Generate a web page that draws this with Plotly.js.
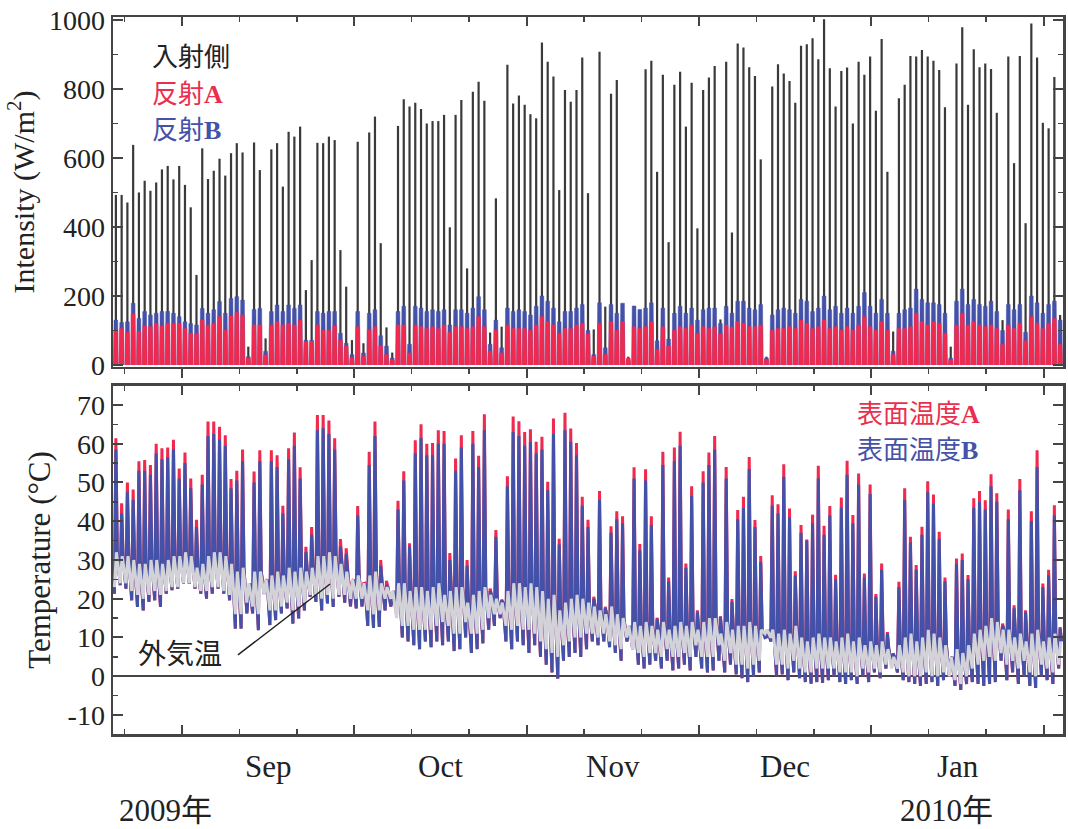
<!DOCTYPE html>
<html>
<head>
<meta charset="utf-8">
<script src="https://cdn.plot.ly/plotly-3.0.1.min.js"></script>
<style>html,body{margin:0;padding:0;background:#fff;}#chart{width:1068px;height:829px;}</style>
</head>
<body>
<div id="chart"></div>
<script>
// ---- daily values (day 0 = 20 Aug 2009) ----
const incident = [
 493,493,471,638,500,534,505,529,567,577,
 538,577,522,457,261,628,539,563,598,549,
 614,643,616,53,645,565,77,625,643,517,
 676,662,691,217,304,644,643,662,652,333,
 227,72,647,63,674,720,353,109,36,693,
 770,749,760,742,700,707,707,725,399,725,
 768,280,792,821,766,94,483,111,870,758,
 781,754,727,715,935,879,836,507,797,763,
 797,891,498,103,908,169,786,826,null,24,
 null,null,857,882,560,841,356,812,850,691,
 818,396,797,833,867,132,879,384,932,920,
 863,838,596,24,807,872,845,823,760,925,
 930,947,886,1002,860,749,852,862,700,879,
 841,894,737,945,560,97,773,812,896,894,
 913,894,882,855,747,53,874,979,754,915,
 863,874,858,731,130,894,585,896,411,990,
 891,702,686,835,145];
const reflB = [
 130,123,125,179,135,155,145,150,155,155,
 150,140,125,120,116,164,150,160,184,150,
 193,198,188,24,161,164,40,155,174,155,
 174,164,174,72,72,155,150,155,155,92,
 63,30,155,35,150,160,85,55,20,155,
 170,60,170,165,155,160,155,160,116,160,
 160,150,165,198,160,60,130,50,165,155,
 160,155,145,170,200,185,165,125,155,155,
 165,175,100,30,180,50,175,150,179,15,
 171,161,165,180,70,165,75,150,170,150,
 165,130,160,165,165,120,170,150,185,185,
 165,160,175,20,145,160,165,160,150,190,
 185,155,165,200,160,170,150,165,150,170,
 210,170,150,190,150,40,150,160,165,220,
 190,180,180,175,150,20,185,220,175,190,
 175,170,185,155,100,175,160,175,95,200,
 180,150,175,185,130];
const reflA = [
 100,106,95,148,97,113,111,121,113,121,
 121,121,106,92,92,130,116,121,140,101,
 142,152,145,20,116,116,29,116,126,116,
 121,116,130,68,68,116,101,101,113,72,
 55,20,111,25,101,111,55,30,15,116,
 116,35,116,111,106,111,106,116,95,111,
 111,106,111,140,111,40,101,35,116,106,
 106,106,101,116,140,126,116,92,106,106,
 116,121,90,25,121,30,126,101,126,20,
 111,106,111,126,45,111,55,101,111,106,
 116,92,111,106,111,90,116,110,126,121,
 111,111,116,15,101,106,106,111,106,130,
 121,106,111,130,106,111,101,111,101,116,
 140,111,101,126,101,30,106,106,111,150,
 126,116,126,121,92,15,116,150,116,126,
 116,111,116,106,60,116,106,121,70,140,
 121,106,121,135,60];
const surfAmax = [
 61.4,44.6,50,48.2,55.5,55.8,54.5,60,58.8,59,
 61,53.6,57.7,51,40.4,52,65.7,65.7,64.4,62.2,
 50.9,53,58.5,22,52.8,58.3,24.4,58.3,57,44,
 58.8,62.9,53.9,33.4,38.5,67.4,67.4,66,61.4,35.4,
 33,24.4,43.9,23.9,57.9,65.7,30,24.6,20.5,45.3,
 52.9,34.3,60.9,65,60,60.2,63.5,63.3,31.8,56.2,
 62.2,30,63.3,56.9,67.6,22.6,37.7,19.8,51.6,67,
 65.8,63,63.7,60.5,61.8,50.2,66.5,35.5,68,63.9,
 60.2,46.3,40.4,20.5,47.8,17.9,38.7,42.6,41.3,10.6,
 53.9,34.1,53.4,41.3,15.1,57.9,25.5,59,63.1,29.1,
 49,17,52.9,57.7,62,15.5,54,19.9,42.9,46.3,
 56.6,40.3,31,10.2,46.7,44.4,54.7,43.3,27.1,39,
 35.3,41.7,54.3,38.8,43.9,26.2,46.1,55.6,41.6,52.3,
 26.5,49.5,21.2,29.1,11.4,5.9,24.4,48.5,36,28.7,
 38.6,50.3,46.9,37.3,25.5,4.1,30.4,31.7,26.1,45.9,
 47.8,45.4,52.1,47.2,13.6,43,18.3,50.9,17,42.6,
 58.3,23.9,27.5,44.1,12.7];
const surfBmax = [
 58.5,42,47.5,45.5,53,53,52,57.5,56,56.5,
 58.5,51,55,48.5,38.5,49.5,62,62.5,61,59.5,
 48.5,50.5,55.5,21.5,50,55.5,23.5,55.5,54,42,
 56,59.5,51,32,36.5,63.5,64,62.5,58.5,33.5,
 31.5,23.5,41.5,23,54.5,62,28.5,23.5,20,43,
 50.5,33.5,57.5,61.5,57,57,60,60,30,53,
 59,28.5,60,54,63.5,22,36,19.5,49,63,
 62,59.5,60.5,57.5,58.5,48,62.5,34,63.5,60.5,
 57,44,38.5,20,45.5,17.5,37,40.5,39.5,10.5,
 51,32.5,50.5,39,14.8,54.5,24.5,55.5,59.5,28,
 46.5,16.5,50,54.5,58.5,15.2,51,19.2,40.5,43.5,
 53.5,38.5,29.5,10.1,44,42,51.5,41,26,37,
 35,39.5,51,36.5,41.5,25,43.5,52,39.5,49.5,
 25.5,47,20.5,27.5,11,5.8,23,45.5,34.5,27.5,
 36.5,47.5,44.5,35.5,24.5,4,29,30,25,43.5,
 45,43,49,45,13,40.5,17.5,48,16.5,40,
 54,23,26,41.5,12.3];
const surfMin = [
 21.3,23.5,22.6,19.6,17.9,17,19.2,19.6,17.9,21.3,
 22.2,22.6,23.9,23.9,22.6,21.3,20,21.3,22.6,21.3,
 19.6,12.3,12.3,16.2,16.2,11.9,21.3,13.2,14.5,16.2,
 17.5,13.6,14.9,17,20.5,19.2,17,18.8,17.9,20.5,
 19,18,17.5,18,13,12.5,12.7,17,18,16,
 10,9,8,7,9,7.5,9,8,9,6.5,
 7,10,6,7,8.5,12,13,15,9,7,
 9,8,6,8,5,3,1,-0.6,4,5,
 6,5,7,9,8,9,7.5,6,4,9,
 7,3,2,3,4,2,4,1.5,2,3,
 1.5,5,2,1,1.5,4,1,3,0.5,-0.5,
 -1.5,0,1,10,9,0,0.5,-1,1,-0.5,
 -1.5,-1.9,-1.5,-1.7,-1,0,-1.5,-2,-1,-2,
 0,-1.5,1,-0.5,2,3,1,-1,-1.5,-2,
 -2.5,-2,-1.5,-2.5,-1,0,-2.5,-3.5,-2,-1.5,
 -2,-2.5,-2,-1.5,4,-1,1,-2,0,-2.5,
 -3,0,-1,-2,2];
const airMax = [
 32,31,31,30,29,29,30,30,29,30,
 31,31,32,31,28,29,31,32,32,31,
 29,27,28,24,27,27,25,26,27,26,
 28,27,28,27,28,31,31,32,31,29,
 27,25,26,24,26,27,24,23,22,24,
 24,22,23,23,22,23,24,21,22,23,
 23,19,21,22,23,21,20,19,22,24,
 24,23,24,23,22,20,21,17,19,20,
 21,20,19,18,17,16,18,16,15,13,
 14,13,14,13,12,14,12,13,14,13,
 14,12,14,15,15,11,14,12,13,13,
 14,13,12,12,12,11,12,11,13,10,
 9,10,11,10,10,9,10,11,9,10,
 8,9,8,9,7,5,8,10,11,9,
 10,12,11,10,8,5,7,6,8,11,
 12,13,15,14,12,12,10,11,9,11,
 12,9,10,11,9];
const airMin = [
 23,24,24,22,21,20,21,22,21,22,
 23,23,24,24,23,22,22,23,23,22,
 21,16,16,19,18,16,21,17,17,18,
 19,17,18,19,21,21,20,21,20,21,
 21,20,20,20,17,16,17,20,20,15,
 13,13,12,12,12,12,13,14,13,11,
 11,14,11,11,12,15,16,16,13,12,
 13,12,12,11,9,7,6,5,8,9,
 10,10,11,11,10,11,9,8,7,10,
 7,6,5,6,6,5,7,5,5,6,
 5,8,5,5,5,8,4,6,3,3,
 2,3,4,11,10,3,3,2,4,2,
 1,1,2,2,2,2,1,1,1,0,
 2,1,2,1,3,2,2,1,0,0,
 0,1,0,0,1,0,-1,-2,0,2,
 3,4,5,4,6,3,4,2,4,1,
 0,3,2,1,3];
const months = ['Sep','Oct','Nov','Dec','Jan'];
const years = ['2009年','2010年'];
const legendTop = ['入射側','反射','反射'];
const legendBottom = ['表面温度','表面温度'];
const airLabel = '外気温';

// ---- build per-day shapes from the daily values ----
const N = incident.length;
const ix=[], iy=[], bx=[], by=[], rx=[], ry=[];
const ax=[], ay=[], bbx=[], bby=[], tx=[], ty=[];
for (let d=0; d<N; d++){
  if (incident[d]!==null){ ix.push(d,d,null); iy.push(0,incident[d],null); }
  bx.push(d-0.4,d-0.32,d+0.32,d+0.4,null); by.push(0,reflB[d],reflB[d],0,null);
  rx.push(d-0.4,d-0.32,d+0.32,d+0.4,null); ry.push(0,reflA[d],reflA[d],0,null);
  ax.push(d-0.25,d,d+0.25); ay.push(surfMin[d],surfAmax[d],airMax[d]);
  bbx.push(d-0.25,d,d+0.25); bby.push(surfMin[d],surfBmax[d],airMax[d]);
  tx.push(d-0.25,d+0.1); ty.push(airMin[d],airMax[d]);
}

const RED='#f0294f', BLUE='#4351a9', DARK='#3a3a3a', GREY='#d2d2d8';
const traces = [
  {x:ix,y:iy,mode:'lines',line:{color:DARK,width:2.2},xaxis:'x',yaxis:'y',hoverinfo:'skip',connectgaps:false},
  {x:bx,y:by,mode:'lines',fill:'toself',fillcolor:BLUE,line:{color:BLUE,width:0.5},xaxis:'x',yaxis:'y',hoverinfo:'skip'},
  {x:rx,y:ry,mode:'lines',fill:'toself',fillcolor:RED,line:{color:RED,width:0.5},xaxis:'x',yaxis:'y',hoverinfo:'skip'},
  {x:[],y:[],xaxis:'x3',yaxis:'y',hoverinfo:'skip'},
  {x:ax,y:ay,mode:'lines',line:{color:RED,width:3},xaxis:'x2',yaxis:'y2',hoverinfo:'skip'},
  {x:bbx,y:bby,mode:'lines',line:{color:BLUE,width:3},xaxis:'x2',yaxis:'y2',hoverinfo:'skip'},
  {x:tx,y:ty,mode:'lines',line:{color:GREY,width:3},xaxis:'x2',yaxis:'y2',hoverinfo:'skip'}
];

const AX='#444';
const XR=[-0.5,164.5];
const MT0=11.5, MD=29.93;
const minorX={tick0:1.5,dtick:MD/3,ticks:'inside',ticklen:5,tickwidth:1.5,tickcolor:AX};
const baseX={range:XR,tickmode:'linear',tick0:MT0,dtick:MD,showticklabels:false,showgrid:false,zeroline:false,
  showline:true,linecolor:AX,linewidth:2.5,tickcolor:AX,tickwidth:2,ticklen:9};
const serif='Liberation Serif, Times New Roman, serif';
const cjk='Noto Sans CJK JP, sans-serif';

const tempTicks=[-10,0,10,20,30,40,50,60,70];
const annotations=[];
months.forEach((m,k)=>annotations.push({text:m,xref:'x2',yref:'paper',x:MT0+MD*(k+0.5),y:-0.046,
  xanchor:'center',yanchor:'middle',showarrow:false,font:{family:serif,size:31,color:'#222'}}));
annotations.push({text:years[0],xref:'x2',yref:'paper',x:0.2,y:-0.106,xanchor:'left',yanchor:'middle',showarrow:false,
  font:{family:serif+', '+cjk,size:31,color:'#222'}});
annotations.push({text:years[1],xref:'x2',yref:'paper',x:135.9,y:-0.106,xanchor:'left',yanchor:'middle',showarrow:false,
  font:{family:serif+', '+cjk,size:31,color:'#222'}});
const bAB=(s)=>'<b><span style="font-family:Liberation Serif">'+s+'</span></b>';
annotations.push({text:legendTop[0],xref:'x',yref:'y',x:5.9,y:899,xanchor:'left',yanchor:'middle',showarrow:false,font:{family:cjk,size:26,color:'#222'}});
annotations.push({text:legendTop[1]+bAB('A'),xref:'x',yref:'y',x:5.9,y:792,xanchor:'left',yanchor:'middle',showarrow:false,font:{family:cjk,size:26,color:'#ea2f4e'}});
annotations.push({text:legendTop[2]+bAB('B'),xref:'x',yref:'y',x:5.9,y:689,xanchor:'left',yanchor:'middle',showarrow:false,font:{family:cjk,size:26,color:'#4452a8'}});
annotations.push({text:legendBottom[0]+bAB('A'),xref:'x2',yref:'y2',x:128.4,y:68.2,xanchor:'left',yanchor:'middle',showarrow:false,font:{family:cjk,size:26,color:'#ea2f4e'}});
annotations.push({text:legendBottom[1]+bAB('B'),xref:'x2',yref:'y2',x:128.4,y:58.9,xanchor:'left',yanchor:'middle',showarrow:false,font:{family:cjk,size:26,color:'#4452a8'}});
annotations.push({text:airLabel,xref:'x2',yref:'y2',x:11.1,y:6.3,xanchor:'center',yanchor:'middle',showarrow:false,font:{family:cjk,size:28,color:'#222'}});

const layout={
  width:1068,height:829,margin:{l:113,r:5,t:17,b:95},
  paper_bgcolor:'#fff',plot_bgcolor:'#fff',showlegend:false,
  font:{family:serif,size:28,color:'#222'},
  xaxis:Object.assign({},baseX,{domain:[0,1],anchor:'y',ticks:'outside',mirror:false,
    minor:Object.assign({},minorX,{ticks:'outside'})}),
  xaxis3:Object.assign({},baseX,{overlaying:'x',anchor:'y',side:'top',ticks:'inside',minor:minorX}),
  xaxis2:Object.assign({},baseX,{domain:[0,1],anchor:'y2',ticks:'inside',mirror:'ticks',minor:minorX}),
  yaxis:{domain:[0.5119,1],anchor:'x',range:[-5.8,1008.7],tickmode:'linear',tick0:0,dtick:200,
    ticks:'inside',ticklen:10,tickwidth:2,tickcolor:AX,mirror:'ticks',showline:true,linecolor:AX,linewidth:2.5,
    showgrid:false,zeroline:false,tickfont:{family:serif,size:28,color:'#222'},
    minor:{dtick:100,ticks:'inside',ticklen:5,tickwidth:1.5,tickcolor:AX},
    title:{text:'Intensity (W/m<sup>2</sup>)',font:{family:serif,size:30,color:'#222'},standoff:6}},
  yaxis2:{domain:[0,0.4854],anchor:'x2',range:[-14.9,74.9],tickmode:'array',tickvals:tempTicks,
    ticktext:tempTicks.map(v=>String(v)),
    ticks:'inside',ticklen:10,tickwidth:2,tickcolor:AX,mirror:'ticks',showline:true,linecolor:AX,linewidth:2.5,
    showgrid:false,zeroline:true,zerolinecolor:AX,zerolinewidth:2.5,tickfont:{family:serif,size:28,color:'#222'},
    minor:{tickmode:'linear',tick0:-15,dtick:5,ticks:'inside',ticklen:5,tickwidth:1.5,tickcolor:AX},
    title:{text:'Temperature (°C)',font:{family:serif,size:31,color:'#222'},standoff:8}},
  annotations:annotations,
  shapes:[{type:'line',xref:'x2',yref:'y2',x0:21.2,y0:5.5,x1:37.2,y1:23.8,line:{color:'#222',width:1.5}}]
};
Plotly.newPlot('chart',traces,layout,{displayModeBar:false,staticPlot:true});
</script>
</body>
</html>
